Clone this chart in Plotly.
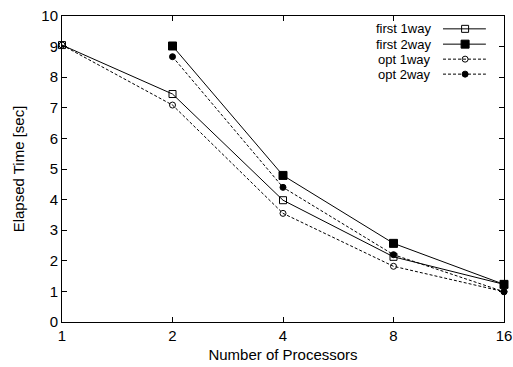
import plotly.graph_objects as go

procs = [1, 2, 4, 8, 16]
first_1way = [9.05, 7.45, 3.98, 2.13, 1.23]
first_2way = [None, 9.02, 4.79, 2.57, 1.23]
opt_1way = [9.05, 7.09, 3.55, 1.82, 0.99]
opt_2way = [None, 8.67, 4.40, 2.20, 0.99]
series_names = ["first 1way", "first 2way", "opt 1way", "opt 2way"]
x_ticks = [1, 2, 4, 8, 16]
y_ticks = list(range(0, 11))

FONT = "Liberation Sans"
FS = 15
LEG_FS = 13

styles = [
    dict(symbol="square-open", size=7, dash="solid"),
    dict(symbol="square", size=8, dash="solid"),
    dict(symbol="circle-open", size=6, dash="3px,2px"),
    dict(symbol="circle", size=6, dash="3px,2px"),
]
data = [first_1way, first_2way, opt_1way, opt_2way]

fig = go.Figure()
for name, ys, st in zip(series_names, data, styles):
    fig.add_trace(go.Scatter(
        x=procs, y=ys, mode="lines+markers", name=name, showlegend=False,
        connectgaps=False, cliponaxis=False,
        line=dict(color="black", width=1, dash=st["dash"]),
        marker=dict(symbol=st["symbol"], size=st["size"], color="black",
                    line=dict(color="black", width=1)),
    ))

# custom gnuplot-style legend (text right, sample on the right)
leg_y = [0.958, 0.908, 0.859, 0.810]
for name, st, yy in zip(series_names, styles, leg_y):
    fig.add_trace(go.Scatter(
        x=[0.862, 0.959], y=[yy, yy], mode="lines", xaxis="x2", yaxis="y2",
        showlegend=False, hoverinfo="skip", cliponaxis=False,
        line=dict(color="black", width=1, dash=st["dash"]),
    ))
    fig.add_trace(go.Scatter(
        x=[0.912], y=[yy], mode="markers", xaxis="x2", yaxis="y2",
        showlegend=False, hoverinfo="skip", cliponaxis=False,
        marker=dict(symbol=st["symbol"], size=st["size"], color="black",
                    line=dict(color="black", width=1)),
    ))
    fig.add_annotation(x=0.838, y=yy, xref="paper", yref="paper", text=name,
                       showarrow=False, xanchor="right", yanchor="middle",
                       borderpad=0,
                       font=dict(family=FONT, size=LEG_FS, color="black"))

fig.update_layout(
    width=513, height=367,
    margin=dict(l=62, r=9, t=16, b=45, autoexpand=False),
    paper_bgcolor="white", plot_bgcolor="white",
    font=dict(family=FONT, size=FS, color="black"),
    xaxis=dict(type="log", range=[0, 1.20412], tickvals=x_ticks,
               ticktext=[str(v) for v in x_ticks], automargin=False,
               showline=True, linecolor="black", linewidth=1, mirror="ticks",
               ticks="inside", ticklen=5, tickcolor="black", showgrid=False,
               zeroline=False,
               title=dict(text="Number of Processors", standoff=6,
                          font=dict(family=FONT, size=FS))),
    yaxis=dict(range=[0, 10], tickvals=y_ticks, automargin=False,
               showline=True, linecolor="black", linewidth=1, mirror="ticks",
               ticks="inside", ticklen=5, tickcolor="black", showgrid=False,
               zeroline=False,
               title=dict(text="Elapsed Time [sec]", standoff=13,
                          font=dict(family=FONT, size=FS))),
    xaxis2=dict(range=[0, 1], overlaying="x", anchor="y2", visible=False,
                fixedrange=True),
    yaxis2=dict(range=[0, 1], overlaying="y", anchor="x2", visible=False,
                fixedrange=True),
)

fig.write_html("out.html")
